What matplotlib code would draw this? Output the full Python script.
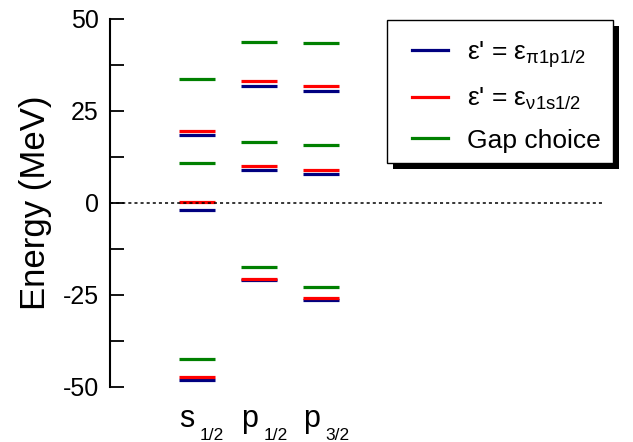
import matplotlib
matplotlib.use('Agg')
import matplotlib.pyplot as plt
from matplotlib.patches import Rectangle

plt.rcParams['font.family'] = ['Liberation Sans', 'DejaVu Sans']
plt.rcParams['mathtext.fontset'] = 'custom'
plt.rcParams['mathtext.rm'] = 'Liberation Sans'
plt.rcParams['mathtext.it'] = 'Liberation Sans'
plt.rcParams['mathtext.default'] = 'regular'

# ---- data ----
state_letters = ['s', 'p', 'p']
state_subs = ['1/2', '1/2', '3/2']
state_pos = [1, 2, 3]
blue_levels = [[18.4, -1.9, -48.2], [31.9, 9.0, -21.0], [30.4, 7.9, -26.4]]
red_levels = [[19.6, 0.2, -47.4], [33.2, 10.1, -20.6], [31.7, 8.9, -25.8]]
green_levels = [[33.6, 10.9, -42.5], [43.8, 16.5, -17.3], [43.6, 15.8, -22.8]]
series_labels = ["ε' = ε$_{π1p1/2}$", "ε' = ε$_{ν1s1/2}$", "Gap choice"]
series_colors = ['#000080', '#ff0000', '#008000']
yticks = [-50, -25, 0, 25, 50]

W, H = 633, 442
fig = plt.figure(figsize=(W/100, H/100), dpi=100)
ax = fig.add_axes([110/W, 1-387/H, (604-110)/W, (387-19)/H])

half = 0.29
handles = []
for levels, col, lab in zip([blue_levels, red_levels, green_levels], series_colors, series_labels):
    for x, ys in zip(state_pos, levels):
        ax.hlines(ys, x-half, x+half, colors=col, lw=2.3, zorder=2)
    h, = ax.plot([], [], color=col, lw=2.3, label=lab)
    handles.append(h)

ax.axhline(0, color='k', ls=(0, (2, 2)), lw=1.1, zorder=3)

ax.set_xlim(-0.408, 7.56)
ax.set_ylim(-50, 50)
ax.set_yticks(yticks)
ax.set_yticklabels([str(t) for t in yticks])
ax.set_yticks([-37.5, -12.5, 12.5, 37.5], minor=True)
ax.set_xticks([])
for s in ['top', 'right', 'bottom']:
    ax.spines[s].set_visible(False)
ax.spines['left'].set_linewidth(1.5)
ax.tick_params(axis='y', which='both', direction='in', length=10, width=1.3,
               labelsize=18, pad=8)
ax.set_ylabel('Energy (MeV)', fontsize=25, labelpad=8)

# category labels
for x, let, sub in zip(state_pos, state_letters, state_subs):
    t = ax.annotate(let, xy=(x, 0), xycoords=('data', 'axes fraction'),
                    xytext=(-18, -40), textcoords='offset pixels',
                    ha='left', va='baseline', fontsize=22)
    ax.annotate(sub, xy=(1, 0), xycoords=t, xytext=(5, -6),
                textcoords='offset pixels', ha='left', va='baseline', fontsize=12.5)

# legend frame + shadow (figure pixels: x 387-613, y 20-163 from top)
fx0, fx1, fy0, fy1 = 387/W, 613/W, 1-163/H, 1-20/H
fig.patches.append(Rectangle((fx0 + 6/W, fy0 - 6/H), fx1-fx0, fy1-fy0, transform=fig.transFigure,
                             facecolor='black', edgecolor='none', zorder=1))
fig.patches.append(Rectangle((fx0, fy0), fx1-fx0, fy1-fy0, transform=fig.transFigure,
                             facecolor='white', edgecolor='black', lw=1.0, zorder=2))

leg = fig.legend(handles=handles, loc='upper left', bbox_to_anchor=(412/W, 1-39/H),
                 bbox_transform=fig.transFigure, borderaxespad=0, borderpad=0, fontsize=19,
                 frameon=False, handlelength=1.36, handletextpad=0.72, labelspacing=0.62)
leg.set_zorder(5)

fig.savefig('out.png', dpi=100)
